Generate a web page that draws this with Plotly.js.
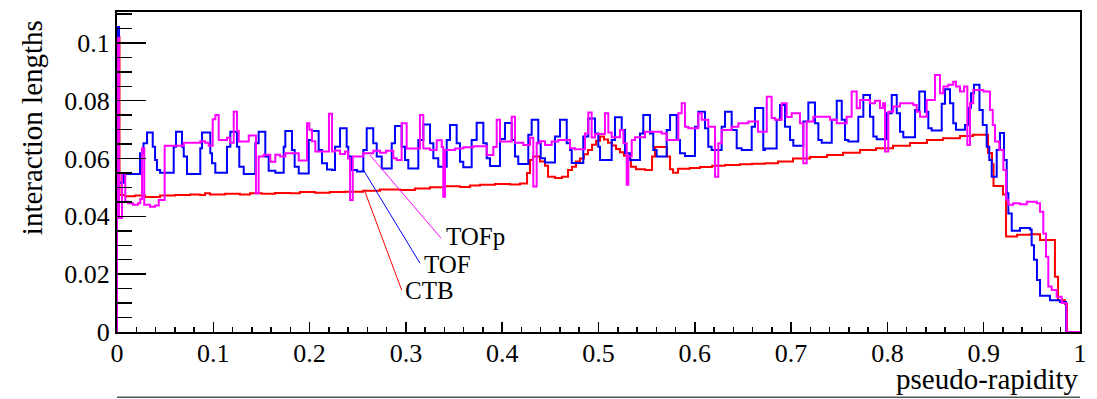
<!DOCTYPE html>
<html>
<head>
<meta charset="utf-8">
<script src="https://cdn.plot.ly/plotly-3.0.1.min.js"></script>
<style>
html,body{margin:0;padding:0;background:#fff;}
#chart{width:1097px;height:399px;}
</style>
</head>
<body>
<div id="chart"></div>
<script>
// ---- data (step histograms: left bin edge in pseudo-rapidity, content in interaction lengths) ----
var ctbEta = [0,0.0026,0.0083,0.0187,0.0291,0.0447,0.0602,0.0758,0.0862,0.0914,0.0966,0.1121,0.1277,0.1381,0.1506,0.1641,0.1796,0.1900,0.2056,0.2212,0.2368,0.2555,0.2731,0.2939,0.3094,0.3250,0.3406,0.3562,0.3666,0.3769,0.3925,0.4081,0.4185,0.4258,0.4289,0.4320,0.4393,0.4444,0.4476,0.4548,0.4621,0.4683,0.4725,0.4766,0.4808,0.4850,0.4891,0.4933,0.4974,0.5016,0.5057,0.5099,0.5140,0.5182,0.5223,0.5265,0.5306,0.5337,0.5389,0.5483,0.5556,0.5587,0.5711,0.5743,0.5774,0.5826,0.5950,0.6054,0.6179,0.6314,0.6469,0.6594,0.6729,0.6864,0.7020,0.7196,0.7373,0.7539,0.7715,0.7882,0.8058,0.8235,0.8411,0.8577,0.8754,0.8889,0.9045,0.9086,0.9102,0.9200,0.9232,0.9346,0.9481,0.9585,0.9740,0.9772,0.9844,0.9865,1.0];
var ctbVal = [0.102,0.0474,0.0470,0.0472,0.0467,0.0472,0.0474,0.0476,0.0474,0.0480,0.0476,0.0478,0.0476,0.0480,0.0478,0.0481,0.0480,0.0484,0.0482,0.0484,0.0485,0.0489,0.0493,0.0491,0.0496,0.0501,0.0504,0.0502,0.0507,0.0509,0.0512,0.0510,0.0514,0.0550,0.0595,0.0607,0.0590,0.0575,0.0537,0.0533,0.0537,0.0560,0.0572,0.0590,0.0600,0.0615,0.0630,0.0648,0.0662,0.0676,0.0666,0.0655,0.0645,0.0633,0.0622,0.0610,0.0597,0.0572,0.0563,0.0560,0.0607,0.0640,0.0607,0.0563,0.0551,0.0565,0.0567,0.0571,0.0575,0.0578,0.0580,0.0582,0.0584,0.0590,0.0600,0.0605,0.0612,0.0620,0.0630,0.0636,0.0644,0.0654,0.0664,0.0670,0.0678,0.0682,0.0619,0.0580,0.0505,0.0476,0.0330,0.0336,0.0338,0.0318,0.0191,0.0110,0.0097,0,0];

var tofEta = [0,0.0021,0.0073,0.0239,0.0275,0.0312,0.0371,0.0395,0.0415,0.0447,0.0589,0.0613,0.0675,0.0693,0.0727,0.0865,0.0883,0.0969,0.0987,0.1021,0.1142,0.1177,0.1246,0.1270,0.1316,0.1436,0.1471,0.1540,0.1575,0.1644,0.1731,0.1748,0.1817,0.1845,0.1887,0.1991,0.2025,0.2094,0.2129,0.2181,0.2233,0.2264,0.2316,0.2385,0.2402,0.2437,0.2492,0.2558,0.2593,0.2661,0.2697,0.2749,0.2853,0.2887,0.2956,0.2991,0.3025,0.3129,0.3181,0.3250,0.3285,0.3336,0.3424,0.3458,0.3527,0.3562,0.3596,0.3683,0.3735,0.3804,0.3839,0.3873,0.3977,0.4029,0.4099,0.4133,0.4167,0.4271,0.4306,0.4375,0.4400,0.4444,0.4548,0.4600,0.4670,0.4704,0.4722,0.4842,0.4894,0.4964,0.4998,0.5016,0.5137,0.5171,0.5241,0.5275,0.5327,0.5431,0.5465,0.5535,0.5569,0.5604,0.5708,0.5743,0.5812,0.5846,0.5898,0.6002,0.6036,0.6106,0.6140,0.6175,0.6279,0.6314,0.6383,0.6435,0.6487,0.6591,0.6625,0.6711,0.6729,0.6850,0.6885,0.6937,0.6989,0.7023,0.7127,0.7179,0.7248,0.7283,0.7318,0.7422,0.7474,0.7526,0.7560,0.7594,0.7698,0.7750,0.7819,0.7854,0.7889,0.7993,0.8045,0.8097,0.8131,0.8165,0.8287,0.8331,0.8390,0.8425,0.8460,0.8564,0.8598,0.8650,0.8684,0.8712,0.8806,0.8837,0.8868,0.8899,0.8956,0.8990,0.9031,0.9058,0.9083,0.9135,0.9169,0.9211,0.9239,0.9256,0.9291,0.9377,0.9481,0.9498,0.9522,0.9553,0.9585,0.9688,0.9792,0.9855,1.0];
var tofVal = [0.1055,0.0516,0.0547,0.0618,0.0653,0.0690,0.0641,0.0595,0.0560,0.0551,0.0641,0.0693,0.0641,0.0607,0.0547,0.0636,0.0690,0.0618,0.0584,0.0551,0.0641,0.0693,0.0641,0.0572,0.0547,0.0653,0.0693,0.0607,0.0558,0.0551,0.0641,0.0695,0.0630,0.0572,0.0548,0.0664,0.0695,0.0630,0.0584,0.0562,0.0560,0.0641,0.0705,0.0641,0.0607,0.0560,0.0555,0.0630,0.0705,0.0653,0.0607,0.0566,0.0653,0.0713,0.0641,0.0595,0.0566,0.0664,0.0718,0.0653,0.0601,0.0572,0.0664,0.0716,0.0653,0.0589,0.0570,0.0664,0.0724,0.0653,0.0601,0.0574,0.0668,0.0723,0.0664,0.0607,0.0581,0.0682,0.0734,0.0653,0.0601,0.0586,0.0676,0.0734,0.0653,0.0630,0.0585,0.0676,0.0739,0.0687,0.0641,0.0595,0.0664,0.0743,0.0699,0.0618,0.0595,0.0687,0.0751,0.0687,0.0630,0.0607,0.0699,0.0751,0.0664,0.0618,0.0609,0.0710,0.0762,0.0705,0.0641,0.0630,0.0710,0.0762,0.0699,0.0636,0.0630,0.0710,0.0775,0.0630,0.0635,0.0734,0.0785,0.0710,0.0664,0.0644,0.0728,0.0794,0.0722,0.0664,0.0655,0.0734,0.0800,0.0734,0.0664,0.0659,0.0745,0.0820,0.0745,0.0676,0.0667,0.0757,0.0820,0.0757,0.0693,0.0674,0.0768,0.0832,0.0762,0.0705,0.0697,0.0790,0.0840,0.0791,0.0722,0.0700,0.0716,0.0776,0.0826,0.0855,0.0768,0.0716,0.0641,0.0595,0.0537,0.0630,0.0688,0.0595,0.0480,0.0410,0.0350,0.0360,0.0355,0.0300,0.0250,0.0180,0.0125,0.0110,0.0104,0,0];

var tofpEta = [0,0.0021,0.0052,0.0086,0.0114,0.0166,0.0218,0.0242,0.0260,0.0283,0.0343,0.0395,0.0433,0.0495,0.0693,0.0865,0.0914,0.0952,0.0994,0.1021,0.1056,0.1142,0.1173,0.1212,0.1246,0.1264,0.1368,0.1443,0.1471,0.1523,0.1592,0.1644,0.1693,0.1748,0.1887,0.1973,0.1997,0.2025,0.2059,0.2201,0.2233,0.2264,0.2316,0.2368,0.2399,0.2420,0.2448,0.2558,0.2661,0.2731,0.2793,0.2869,0.2904,0.2956,0.3008,0.3146,0.3181,0.3250,0.3320,0.3372,0.3388,0.3406,0.3510,0.3596,0.3700,0.3839,0.3908,0.3943,0.3977,0.4099,0.4133,0.4219,0.4289,0.4323,0.4358,0.4393,0.4444,0.4514,0.4583,0.4704,0.4756,0.4860,0.4894,0.4929,0.4964,0.5067,0.5102,0.5137,0.5223,0.5258,0.5293,0.5310,0.5345,0.5379,0.5483,0.5656,0.5708,0.5829,0.5864,0.5898,0.5933,0.6036,0.6072,0.6140,0.6210,0.6244,0.6279,0.6383,0.6452,0.6556,0.6656,0.6747,0.6798,0.6833,0.6902,0.6954,0.7006,0.7092,0.7127,0.7162,0.7231,0.7404,0.7474,0.7577,0.7629,0.7681,0.7715,0.7819,0.7871,0.7923,0.7954,0.7975,0.8009,0.8061,0.8131,0.8269,0.8304,0.8339,0.8408,0.8494,0.8546,0.8581,0.8632,0.8684,0.8712,0.8754,0.8796,0.8830,0.8858,0.8892,0.8996,0.9065,0.9094,0.9117,0.9162,0.9204,0.9232,0.9256,0.9307,0.9377,0.9447,0.9550,0.9585,0.9619,0.9647,0.9671,0.9706,0.9758,0.9810,0.9860,1.0];
var tofpVal = [0.1017,0.0394,0.0550,0.0451,0.0445,0.0440,0.0445,0.0460,0.0636,0.0440,0.0433,0.0438,0.0457,0.0644,0.0655,0.0660,0.0655,0.0644,0.0736,0.0751,0.0664,0.0672,0.0655,0.0762,0.0695,0.0659,0.0680,0.0480,0.0607,0.0613,0.0589,0.0613,0.0607,0.0618,0.0593,0.0722,0.0700,0.0660,0.0624,0.0755,0.0624,0.0628,0.0616,0.0624,0.0600,0.0457,0.0607,0.0618,0.0627,0.0620,0.0627,0.0601,0.0595,0.0722,0.0635,0.0751,0.0635,0.0630,0.0663,0.0640,0.0468,0.0630,0.0635,0.0639,0.0643,0.0612,0.0640,0.0734,0.0659,0.0745,0.0655,0.0647,0.0672,0.0503,0.0655,0.0660,0.0647,0.0659,0.0664,0.0636,0.0632,0.0687,0.0759,0.0673,0.0685,0.0757,0.0690,0.0674,0.0699,0.0653,0.0509,0.0607,0.0664,0.0674,0.0693,0.0687,0.0664,0.0757,0.0791,0.0710,0.0705,0.0757,0.0734,0.0710,0.0537,0.0653,0.0699,0.0710,0.0722,0.0728,0.0693,0.0814,0.0740,0.0734,0.0791,0.0744,0.0757,0.0722,0.0584,0.0728,0.0745,0.0734,0.0722,0.0745,0.0832,0.0774,0.0803,0.0791,0.0800,0.0775,0.0791,0.0624,0.0762,0.0780,0.0791,0.0785,0.0762,0.0745,0.0803,0.0889,0.0826,0.0849,0.0855,0.0866,0.0849,0.0832,0.0849,0.0647,0.0791,0.0837,0.0832,0.0768,0.0716,0.0659,0.0630,0.0560,0.0457,0.0440,0.0445,0.0442,0.0451,0.0445,0.0416,0.0341,0.0260,0.0157,0.0145,0.0122,0.0100,0,0];

var seriesNames = ["CTB", "TOF", "TOFp"];
var seriesColors = ["#ff0000", "#0000ff", "#ff00ff"];

var FONT = '"Liberation Serif", "Times New Roman", Times, serif';

function histTrace(eta, val, name, color) {
  // histogram outline starts from the baseline at the lower edge
  return {
    x: [eta[0]].concat(eta),
    y: [0].concat(val),
    type: 'scatter', mode: 'lines', name: name,
    line: {shape: 'hv', color: color, width: 2},
    hoverinfo: 'x+y+name'
  };
}

var data = [
  histTrace(ctbEta, ctbVal, seriesNames[0], seriesColors[0]),
  histTrace(tofEta, tofVal, seriesNames[1], seriesColors[1]),
  histTrace(tofpEta, tofpVal, seriesNames[2], seriesColors[2])
];

var layout = {
  width: 1097, height: 399,
  margin: {l: 117, r: 17, t: 12, b: 67, pad: 0},
  paper_bgcolor: '#ffffff', plot_bgcolor: '#ffffff',
  showlegend: false,
  font: {family: FONT, color: '#000', size: 26},
  xaxis: {
    range: [0, 1], tick0: 0, dtick: 0.1,
    ticks: 'inside', ticklen: 10, tickwidth: 1.5, tickcolor: '#000',
    minor: {dtick: 0.02, ticks: 'inside', ticklen: 5, tickwidth: 1.5, tickcolor: '#000', showgrid: false},
    showline: true, mirror: true, linecolor: '#000', linewidth: 2,
    showgrid: false, zeroline: false,
    ticklabelstandoff: -3,
    tickfont: {family: FONT, size: 26, color: '#000'}
  },
  yaxis: {
    range: [0, 0.1107], tick0: 0, dtick: 0.02,
    ticks: 'inside', ticklen: 29, tickwidth: 1.5, tickcolor: '#000',
    minor: {dtick: 0.005, ticks: 'inside', ticklen: 15, tickwidth: 1.5, tickcolor: '#000', showgrid: false},
    showline: true, mirror: true, linecolor: '#000', linewidth: 2,
    showgrid: false, zeroline: false,
    tickfont: {family: FONT, size: 26, color: '#000'}
  },
  annotations: [
    {text: 'interaction lengths', xref: 'paper', yref: 'paper', x: -0.0883, y: 0.64,
     xanchor: 'center', yanchor: 'middle', textangle: -90, showarrow: false, borderpad: 0,
     font: {family: FONT, size: 29, color: '#000'}},
    {text: 'pseudo-rapidity', xref: 'paper', yref: 'paper', x: 1.0, y: -0.148,
     xanchor: 'right', yanchor: 'middle', showarrow: false, borderpad: 0,
     font: {family: FONT, size: 29, color: '#000'}},
    {text: 'TOFp', xref: 'x', yref: 'y', x: 0.3406, y: 0.0332, xanchor: 'left', yanchor: 'middle',
     showarrow: false, borderpad: 0, font: {family: FONT, size: 25, color: '#000'}},
    {text: 'TOF', xref: 'x', yref: 'y', x: 0.3178, y: 0.0232, xanchor: 'left', yanchor: 'middle',
     showarrow: false, borderpad: 0, font: {family: FONT, size: 25, color: '#000'}},
    {text: 'CTB', xref: 'x', yref: 'y', x: 0.298, y: 0.0145, xanchor: 'left', yanchor: 'middle',
     showarrow: false, borderpad: 0, font: {family: FONT, size: 25, color: '#000'}}
  ],
  shapes: [
    {type: 'line', xref: 'x', yref: 'y', x0: 0.2627, y0: 0.0612, x1: 0.3364, y1: 0.0325,
     line: {color: seriesColors[2], width: 1}},
    {type: 'line', xref: 'x', yref: 'y', x0: 0.2558, y0: 0.0561, x1: 0.3146, y1: 0.0238,
     line: {color: seriesColors[1], width: 1}},
    {type: 'line', xref: 'x', yref: 'y', x0: 0.2575, y0: 0.0485, x1: 0.2956, y1: 0.0145,
     line: {color: seriesColors[0], width: 1}},
    {type: 'line', xref: 'paper', yref: 'paper', x0: 0, y0: -0.204, x1: 1, y1: -0.204,
     line: {color: '#555', width: 1.5}}
  ]
};

Plotly.newPlot('chart', data, layout, {displayModeBar: false, staticPlot: true});
</script>
</body>
</html>
